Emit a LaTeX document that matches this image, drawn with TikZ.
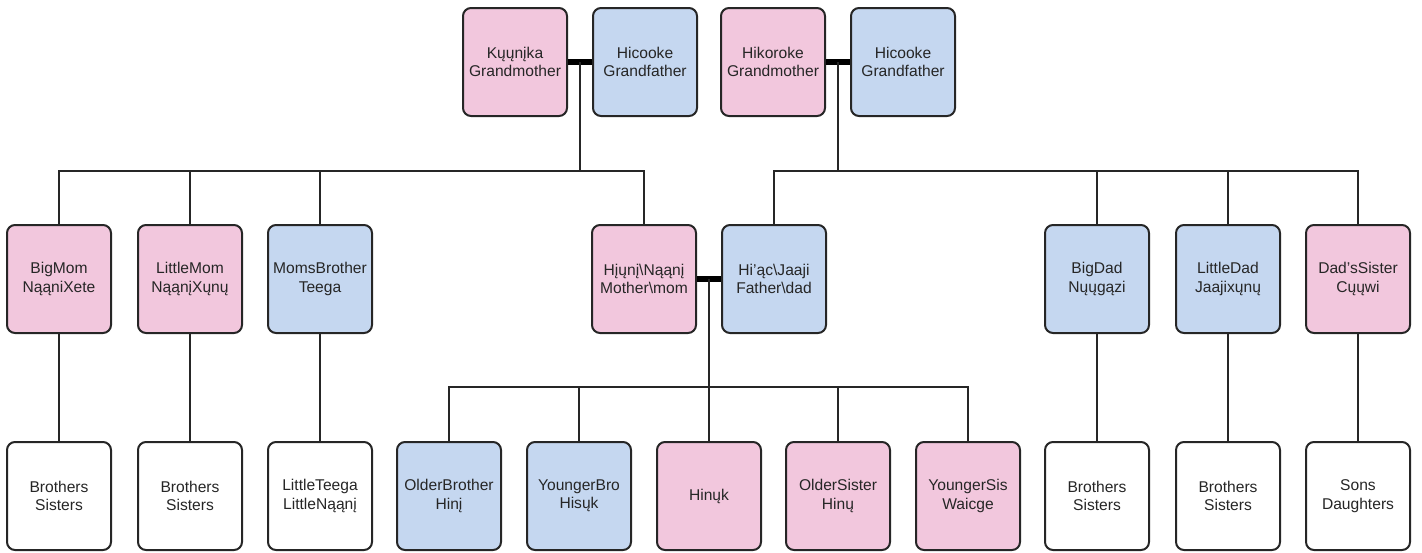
\documentclass[tikz,border=0pt]{standalone}
\usepackage{fontspec}
\setmainfont{Liberation Sans}
\usepackage{xcolor}
\definecolor{pinkbox}{HTML}{F2C7DD}
\definecolor{bluebox}{HTML}{C5D7F0}

\begin{document}
\begin{tikzpicture}[x=0.5pt,y=-0.5pt,
  person/.style={draw=black!85, line width=1pt, rounded corners=4pt, minimum width=52pt, minimum height=54pt, align=center, inner sep=1pt, font=\fontsize{7.8}{9.2}\selectfont, text=black!85},
  she/.style={person, fill=pinkbox},
  he/.style={person, fill=bluebox},
  kin/.style={person, fill=white},
  link/.style={draw=black!85, line width=0.75pt},
  wed/.style={draw=black, line width=3pt}]
   \useasboundingbox (0,0) rectangle (1422,552);

   \node[she] (gmaM) at (515,62) {Kųųnįka\\Grandmother};
   \node[he]  (gpaM) at (645,62) {Hicooke\\Grandfather};
   \node[she] (gmaD) at (773,62) {Hikoroke\\Grandmother};
   \node[he]  (gpaD) at (903,62) {Hicooke\\Grandfather};

   \node[she] (bigmom)    at (59,279)   {BigMom\\NąąniXete};
   \node[she] (littlemom) at (190,279)  {LittleMom\\NąąnįXųnų};
   \node[he]  (momsbro)   at (320,279)  {MomsBrother\\Teega};
   \node[she] (mother)    at (644,279)  {Hįųnį\textbackslash Nąąnį\\Mother\textbackslash mom};
   \node[he]  (father)    at (774,279)  {Hi'ąc\textbackslash Jaaji\\Father\textbackslash dad};
   \node[he]  (bigdad)    at (1097,279) {BigDad\\Nųųgązi};
   \node[he]  (littledad) at (1228,279) {LittleDad\\Jaajixųnų};
   \node[she] (dadssis)   at (1358,279) {Dad'sSister\\Cųųwi};

   \node[kin] (bigmomkids)    at (59,496)   {Brothers\\Sisters};
   \node[kin] (littlemomkids) at (190,496)  {Brothers\\Sisters};
   \node[kin] (momsbrokids)   at (320,496)  {LittleTeega\\LittleNąąnį};
   \node[he]  (oldbro)        at (449,496)  {OlderBrother\\Hinį};
   \node[he]  (youngbro)      at (579,496)  {YoungerBro\\Hisųk};
   \node[she] (hinuk)         at (709,496)  {Hinųk};
   \node[she] (oldsis)        at (838,496)  {OlderSister\\Hinų};
   \node[she] (youngsis)      at (968,496)  {YoungerSis\\Waicge};
   \node[kin] (bigdadkids)    at (1097,496) {Brothers\\Sisters};
   \node[kin] (littledadkids) at (1228,496) {Brothers\\Sisters};
   \node[kin] (dadssiskids)   at (1358,496) {Sons\\Daughters};

   \coordinate (busM) at (580,171);
   \coordinate (busD) at (838,171);
   \coordinate (busS) at (709,387);

   \draw[wed] (gmaM) -- (gpaM);
   \draw[wed] (gmaD) -- (gpaD);
   \draw[wed] (mother) -- (father);

   \draw[link] (busM |- gmaM) -- (busM);
   \draw[link] (bigmom.north) |- (busM) -| (mother.north);
   \foreach \n in {littlemom,momsbro}
      \draw[link] (\n.north) -- (\n.north |- busM);

   \draw[link] (busD |- gmaD) -- (busD);
   \draw[link] (father.north) |- (busD) -| (dadssis.north);
   \foreach \n in {bigdad,littledad}
      \draw[link] (\n.north) -- (\n.north |- busD);

   \draw[link] (busS |- mother) -- (busS);
   \draw[link] (oldbro.north) |- (busS) -| (youngsis.north);
   \foreach \n in {youngbro,hinuk,oldsis}
      \draw[link] (\n.north) -- (\n.north |- busS);

   \foreach \a/\b in {bigmom/bigmomkids,littlemom/littlemomkids,momsbro/momsbrokids,bigdad/bigdadkids,littledad/littledadkids,dadssis/dadssiskids}
      \draw[link] (\a) -- (\b);
\end{tikzpicture}
\end{document}
